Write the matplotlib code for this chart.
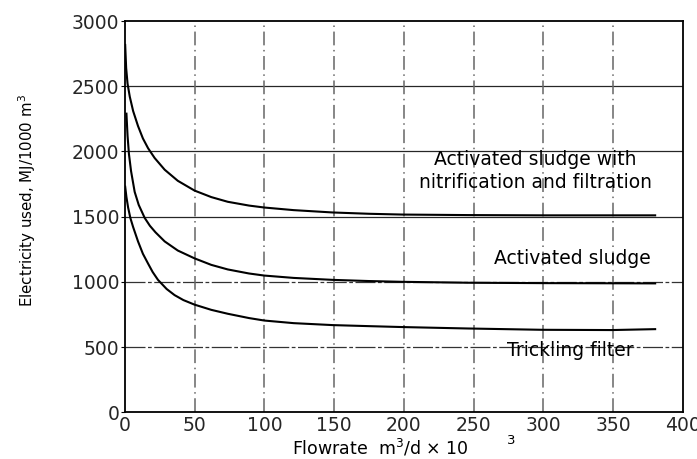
import matplotlib
matplotlib.use('Agg')
import matplotlib.pyplot as plt

# values (flowrate in m3/d x 10^3, electricity in MJ/1000 m3)
nitr_x = [0.3, 1, 2, 3.6, 6, 9.5, 13, 16.7, 21.4, 28.6, 38, 50, 62, 73.8, 89, 100, 121, 149, 175, 199, 246, 300, 380]
nitr_y = [2817, 2640, 2520, 2420, 2310, 2195, 2100, 2025, 1950, 1860, 1775, 1700, 1650, 1614, 1585, 1570, 1550, 1532, 1522, 1516, 1512, 1510, 1510]

act_x = [1.2, 2, 3, 4.5, 7.1, 10, 14.3, 18, 22, 28.6, 38, 50, 62, 73.8, 89, 100, 121, 149, 175, 199, 246, 300, 380]
act_y = [2290, 2120, 1980, 1850, 1690, 1590, 1490, 1430, 1380, 1310, 1240, 1180, 1130, 1095, 1064, 1048, 1030, 1015, 1006, 1000, 993, 990, 988]

trick_x = [0.3, 1.2, 2.4, 4, 6, 9.5, 13, 16.7, 20, 23.8, 30, 35.7, 42, 50, 62, 73.8, 89, 100, 121, 149, 175, 199, 246, 299, 349, 380]
trick_y = [1730, 1650, 1570, 1490, 1420, 1310, 1215, 1140, 1075, 1015, 945, 898, 860, 825, 785, 755, 722, 703, 683, 668, 660, 653, 642, 632, 630, 637]

xticks = [0, 50, 100, 150, 200, 250, 300, 350, 400]
yticks = [0, 500, 1000, 1500, 2000, 2500, 3000]

plt.rcParams['font.family'] = 'DejaVu Sans'

fig = plt.figure(figsize=(6.97, 4.59), dpi=100)
ax = fig.add_axes([0.179, 0.102, 0.801, 0.852])

# horizontal rules: upper ones solid, lower ones broken like the scan
for yv in [1500, 2000, 2500]:
    ax.axhline(yv, color='black', lw=0.9, alpha=0.85, zorder=1)
for yv in [500, 1000]:
    ax.axhline(yv, color='0.2', lw=0.9, ls=(0, (16, 2, 3, 2)), zorder=1)
for xv in xticks[1:-1]:
    ax.axvline(xv, color='0.4', lw=1.1, ls=(0, (9, 3, 1, 3)), zorder=1)

ax.plot(nitr_x, nitr_y, color='black', lw=1.5, zorder=3)
ax.plot(act_x, act_y, color='black', lw=1.5, zorder=3)
ax.plot(trick_x, trick_y, color='black', lw=1.5, zorder=3)

ax.text(294, 1853, "Activated sludge with\nnitrification and filtration",
        ha='center', va='center', fontsize=13.5, linespacing=1.25)
ax.text(321, 1182, "Activated sludge", ha='center', va='center', fontsize=13.5)
ax.text(319, 476, "Trickling filter", ha='center', va='center', fontsize=13.5)

ax.set_xlim(0, 400)
ax.set_ylim(0, 3000)
ax.set_xticks(xticks)
ax.set_yticks(yticks)
ax.tick_params(axis='x', length=0, pad=3, labelsize=13.5, labelcolor='0.15')
ax.tick_params(axis='y', length=3, pad=1, labelsize=13.5, labelcolor='0.15')
for s in ax.spines.values():
    s.set_linewidth(1.3)

ax.set_ylabel("Electricity used, MJ/1000 m$^3$", fontsize=10.8)
ax.yaxis.set_label_coords(-0.155, 0.54)
fig.text(0.419, 0.024, "Flowrate  m$^3$/d × 10", fontsize=12.5, va='center')
fig.text(0.728, 0.040, "3", fontsize=9.5, va='center')

fig.savefig("out.png", dpi=100)
